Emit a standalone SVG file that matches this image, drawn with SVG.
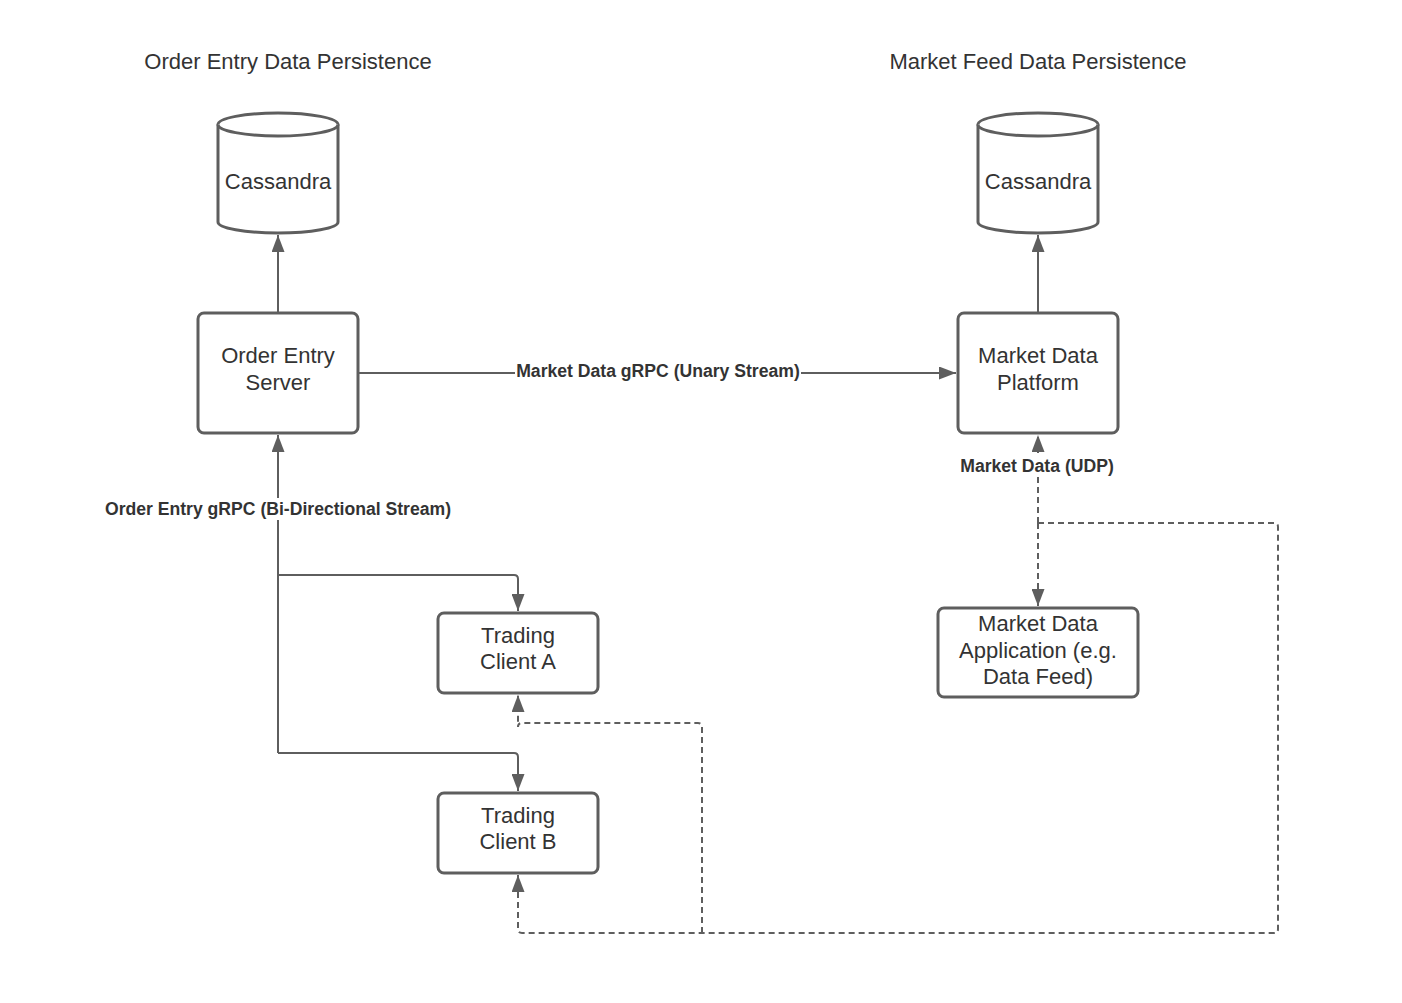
<svg xmlns="http://www.w3.org/2000/svg" width="1402" height="1003" viewBox="0 0 1402 1003">
<style>
.box{fill:#fff;stroke:#5e5e5e;stroke-width:3}
.t{font-family:"Liberation Sans",Arial,sans-serif;font-size:22px;fill:#333;text-anchor:middle}
.lbl{font-family:"Liberation Sans",Arial,sans-serif;font-size:17.6px;font-weight:bold;fill:#333;text-anchor:middle}
.c{fill:none;stroke:#5e5e5e;stroke-width:2}
.d{stroke-dasharray:6 4}
</style>
<defs>
<marker id="ah" viewBox="0 0 17 13" refX="17" refY="6.5" markerWidth="17" markerHeight="13" markerUnits="userSpaceOnUse" orient="auto">
<path d="M0 0 L17 6.5 L0 13 Z" fill="#5e5e5e"/>
</marker>
</defs>
<rect width="1402" height="1003" fill="#fff"/>
<text class="t" x="288" y="69">Order Entry Data Persistence</text>
<text class="t" x="1038" y="69">Market Feed Data Persistence</text>
<g id="connectors">
<path class="c" d="M278 313 V235" marker-end="url(#ah)"/>
<path class="c" d="M1038 313 V235" marker-end="url(#ah)"/>
<path class="c" d="M358 373 H956" marker-end="url(#ah)"/>
<path class="c" d="M278 753 V435" marker-end="url(#ah)"/>
<path class="c" d="M278 575 H514 Q518 575 518 579 V611" marker-end="url(#ah)"/>
<path class="c" d="M278 753 H514 Q518 753 518 757 V791" marker-end="url(#ah)"/>
<path class="c d" d="M1038 523 V435" marker-end="url(#ah)"/>
<path class="c d" d="M1038 523 V606" marker-end="url(#ah)"/>
<path class="c d" d="M1038 523 H1274 Q1278 523 1278 527 V929 Q1278 933 1274 933 H522 Q518 933 518 929 V875" marker-end="url(#ah)"/>
<path class="c d" d="M702 933 V727 Q702 723 698 723 H522 Q518 723 518 727 V695" marker-end="url(#ah)"/>
<rect x="515" y="360" width="286" height="22" fill="#fff"/>
<text class="lbl" x="658" y="377">Market Data gRPC (Unary Stream)</text>
<rect x="103" y="498" width="350" height="22" fill="#fff"/>
<text class="lbl" x="278" y="515">Order Entry gRPC (Bi-Directional Stream)</text>
<rect x="959" y="455" width="157" height="22" fill="#fff"/>
<text class="lbl" x="1037" y="472">Market Data (UDP)</text>
</g>
<g id="cassandra-oe">
<path class="box" d="M218 124.5 A60 11.5 0 0 1 338 124.5 V222 A60 11 0 0 1 218 222 Z"/>
<path class="box" fill="none" d="M218 124.5 A60 11.5 0 0 0 338 124.5"/>
<text class="t" x="278" y="189">Cassandra</text>
</g>
<g id="cassandra-md">
<path class="box" d="M978 124.5 A60 11.5 0 0 1 1098 124.5 V222 A60 11 0 0 1 978 222 Z"/>
<path class="box" fill="none" d="M978 124.5 A60 11.5 0 0 0 1098 124.5"/>
<text class="t" x="1038" y="189">Cassandra</text>
</g>
<g id="order-entry-server">
<rect class="box" x="198" y="313" width="160" height="120" rx="6"/>
<text class="t" x="278" y="363">Order Entry</text>
<text class="t" x="278" y="390">Server</text>
</g>
<g id="market-data-platform">
<rect class="box" x="958" y="313" width="160" height="120" rx="6"/>
<text class="t" x="1038" y="363">Market Data</text>
<text class="t" x="1038" y="390">Platform</text>
</g>
<g id="trading-client-a">
<rect class="box" x="438" y="613" width="160" height="80" rx="6"/>
<text class="t" x="518" y="643">Trading</text>
<text class="t" x="518" y="669">Client A</text>
</g>
<g id="trading-client-b">
<rect class="box" x="438" y="793" width="160" height="80" rx="6"/>
<text class="t" x="518" y="823">Trading</text>
<text class="t" x="518" y="849">Client B</text>
</g>
<g id="market-data-application">
<rect class="box" x="938" y="608" width="200" height="89" rx="6"/>
<text class="t" x="1038" y="631">Market Data</text>
<text class="t" x="1038" y="658">Application (e.g.</text>
<text class="t" x="1038" y="684">Data Feed)</text>
</g>
</svg>
